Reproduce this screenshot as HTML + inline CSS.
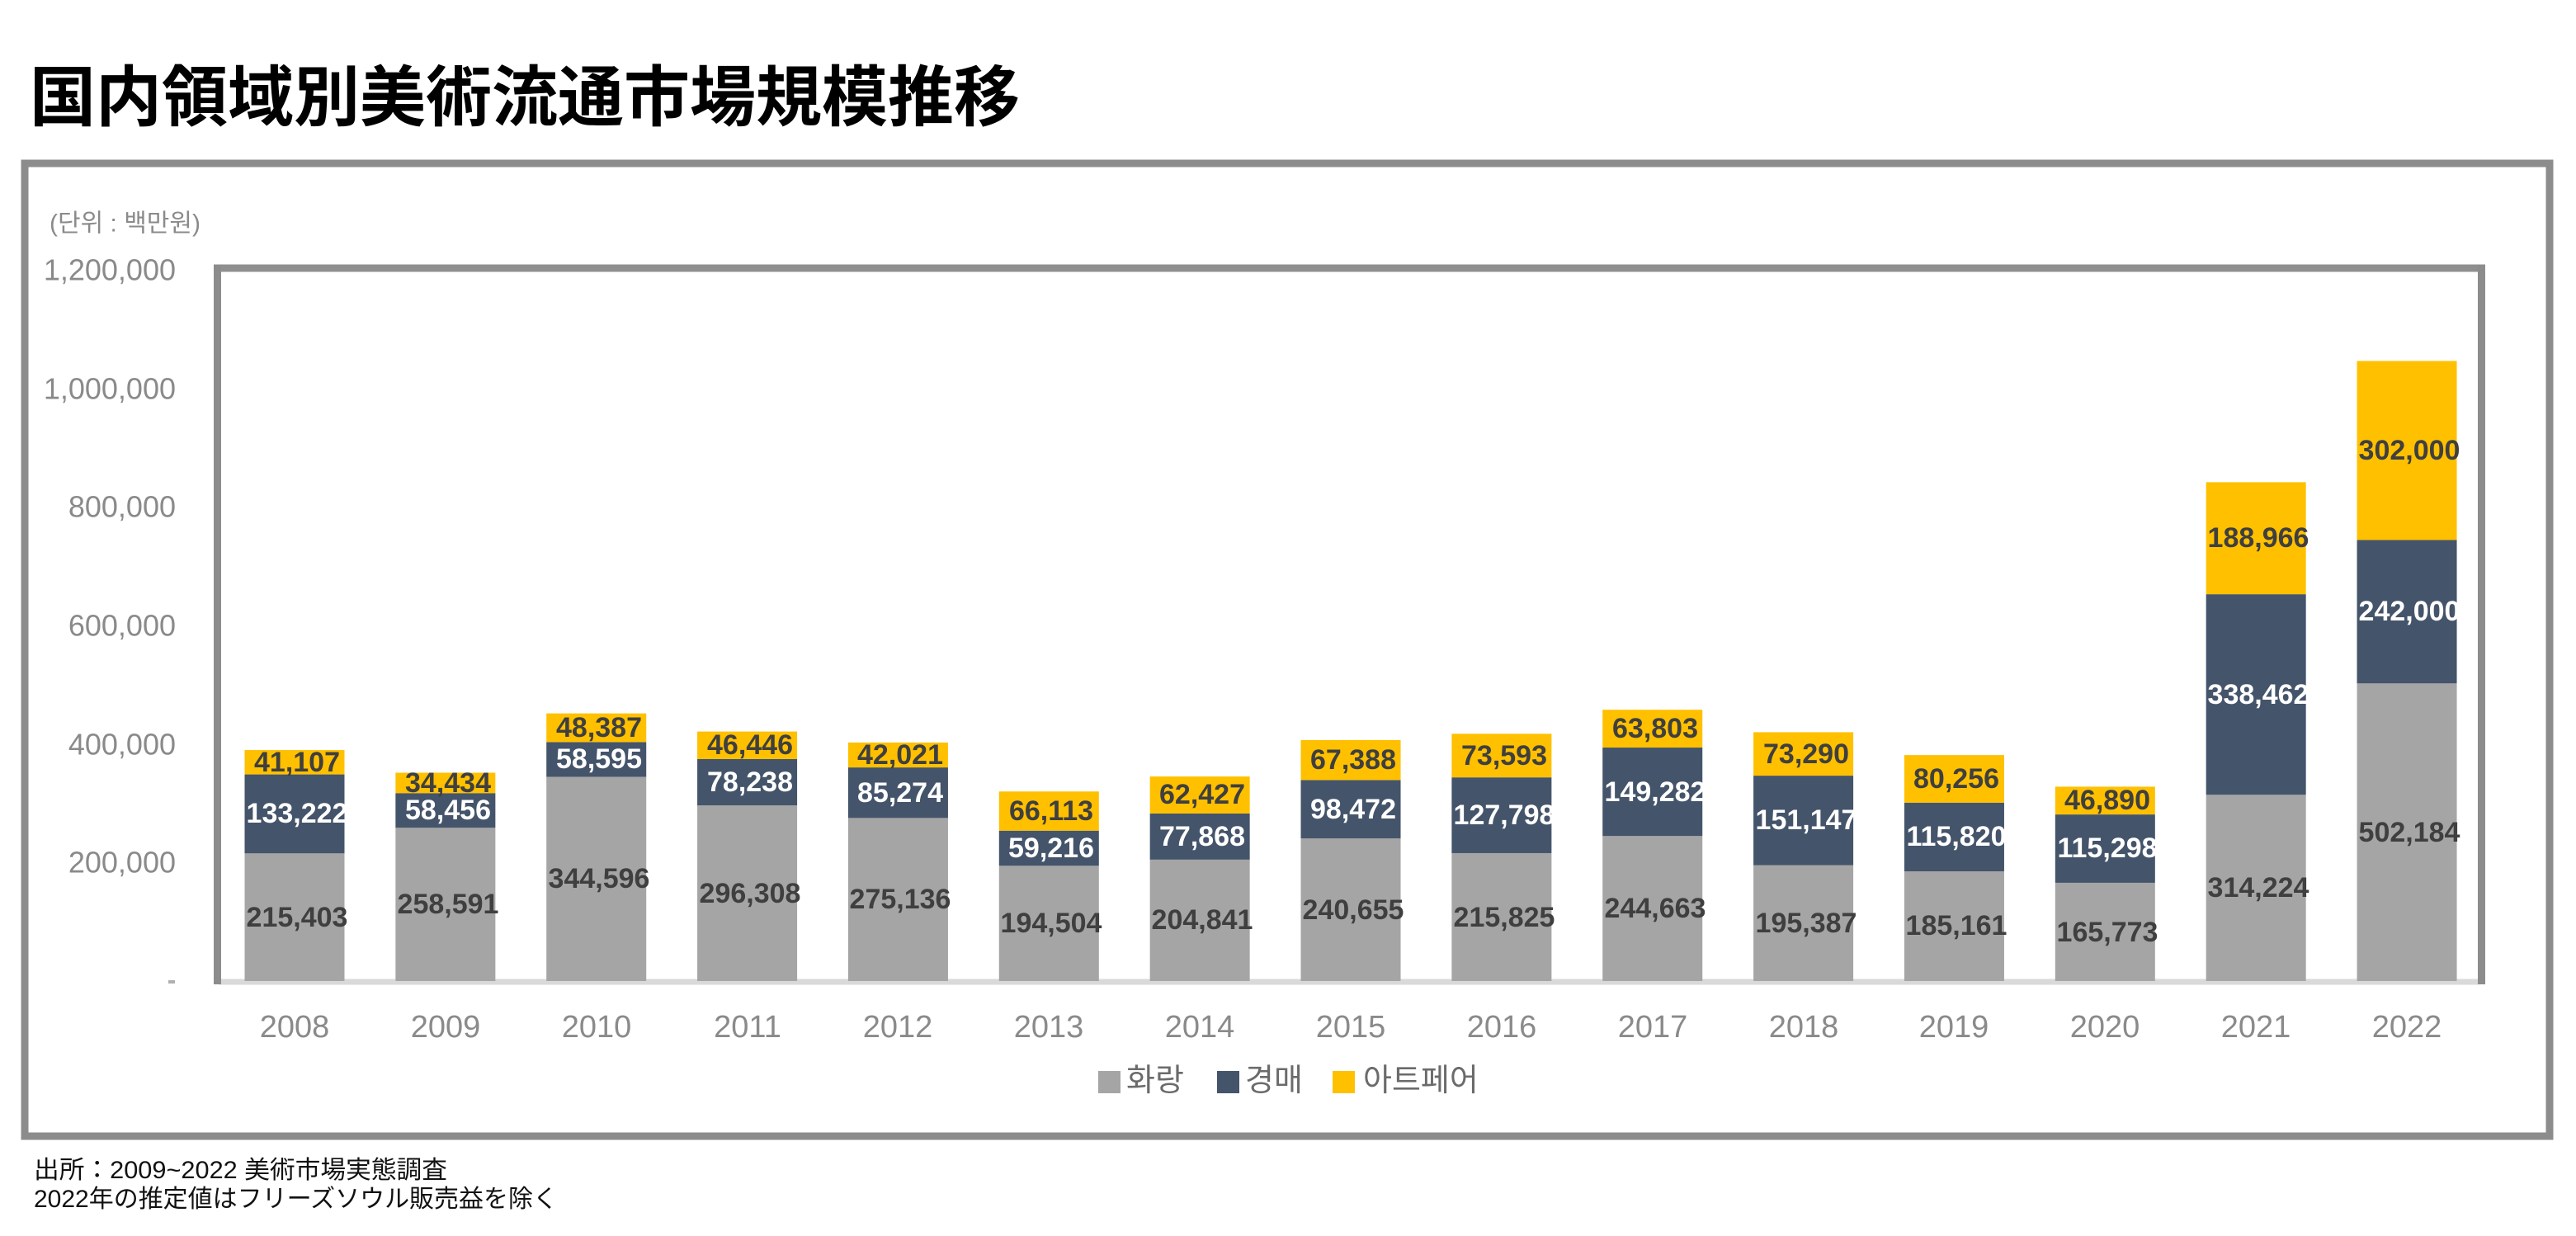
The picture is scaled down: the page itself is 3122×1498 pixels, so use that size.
<!DOCTYPE html>
<html>
<head>
<meta charset="utf-8">
<style>
html,body{margin:0;padding:0;background:#fff;}
body{width:3122px;height:1498px;overflow:hidden;}
svg{display:block;}
.yl{font-family:"Liberation Sans",sans-serif;font-size:36px;fill:#8a8a8a;text-anchor:end;dominant-baseline:central;}
.xl{font-family:"Liberation Sans",sans-serif;font-size:38px;fill:#8a8a8a;text-anchor:middle;dominant-baseline:central;}
.dl{font-family:"Liberation Sans",sans-serif;font-size:34px;font-weight:bold;text-anchor:middle;dominant-baseline:central;}
.dg{fill:#3f3f3f;}
.dn{fill:#ffffff;}
.dy{fill:#3f3f3f;}
.lg{font-family:"Liberation Sans","Noto Sans CJK KR",sans-serif;font-size:38px;fill:#6b6b6b;dominant-baseline:central;}
</style>
</head>
<body>
<svg width="3122" height="1498" viewBox="0 0 3122 1498" xmlns="http://www.w3.org/2000/svg">
<rect x="0" y="0" width="3122" height="1498" fill="#ffffff"/>

<!-- Title -->
<text x="36" y="146" font-family="'Liberation Sans','Noto Sans CJK JP',sans-serif" font-size="80" font-weight="bold" fill="#000">国内領域別美術流通市場規模推移</text>

<!-- Outer frame -->
<rect x="30" y="198" width="3060" height="1179" fill="#ffffff" stroke="#8c8c8c" stroke-width="9"/>

<!-- unit label -->
<text x="60" y="271" font-family="'Liberation Sans','Noto Sans CJK KR',sans-serif" font-size="30" fill="#8a8a8a" dominant-baseline="central">(단위 : 백만원)</text>

<!-- Y axis labels -->
<text class="yl" x="213" y="327">1,200,000</text>
<text class="yl" x="213" y="471">1,000,000</text>
<text class="yl" x="213" y="614">800,000</text>
<text class="yl" x="213" y="758">600,000</text>
<text class="yl" x="213" y="902">400,000</text>
<text class="yl" x="213" y="1045">200,000</text>
<rect x="204" y="1188" width="8" height="4" fill="#b0b0b0"/>

<!-- baseline -->
<line x1="266" y1="1190" x2="3004" y2="1190" stroke="#d9d9d9" stroke-width="7"/>

<!-- Bars -->
<g>
<!-- 2008 -->
<rect x="296.5" y="1034.27" width="121" height="154.73" fill="#a5a5a5"/>
<rect x="296.5" y="938.57" width="121" height="95.70" fill="#44546a"/>
<rect x="296.5" y="909.04" width="121" height="29.53" fill="#ffc000"/>
<!-- 2009 -->
<rect x="479.36" y="1003.25" width="121" height="185.75" fill="#a5a5a5"/>
<rect x="479.36" y="961.26" width="121" height="41.99" fill="#44546a"/>
<rect x="479.36" y="936.52" width="121" height="24.74" fill="#ffc000"/>
<!-- 2010 -->
<rect x="662.22" y="941.47" width="121" height="247.53" fill="#a5a5a5"/>
<rect x="662.22" y="899.38" width="121" height="42.09" fill="#44546a"/>
<rect x="662.22" y="864.62" width="121" height="34.76" fill="#ffc000"/>
<!-- 2011 -->
<rect x="845.08" y="976.15" width="121" height="212.85" fill="#a5a5a5"/>
<rect x="845.08" y="919.95" width="121" height="56.20" fill="#44546a"/>
<rect x="845.08" y="886.59" width="121" height="33.36" fill="#ffc000"/>
<!-- 2012 -->
<rect x="1027.94" y="991.36" width="121" height="197.64" fill="#a5a5a5"/>
<rect x="1027.94" y="930.11" width="121" height="61.25" fill="#44546a"/>
<rect x="1027.94" y="899.93" width="121" height="30.18" fill="#ffc000"/>
<!-- 2013 -->
<rect x="1210.8" y="1049.28" width="121" height="139.72" fill="#a5a5a5"/>
<rect x="1210.8" y="1006.74" width="121" height="42.54" fill="#44546a"/>
<rect x="1210.8" y="959.25" width="121" height="47.49" fill="#ffc000"/>
<!-- 2014 -->
<rect x="1393.66" y="1041.86" width="121" height="147.14" fill="#a5a5a5"/>
<rect x="1393.66" y="985.92" width="121" height="55.94" fill="#44546a"/>
<rect x="1393.66" y="941.08" width="121" height="44.84" fill="#ffc000"/>
<!-- 2015 -->
<rect x="1576.52" y="1016.13" width="121" height="172.87" fill="#a5a5a5"/>
<rect x="1576.52" y="945.39" width="121" height="70.74" fill="#44546a"/>
<rect x="1576.52" y="896.98" width="121" height="48.41" fill="#ffc000"/>
<!-- 2016 -->
<rect x="1759.38" y="1033.97" width="121" height="155.03" fill="#a5a5a5"/>
<rect x="1759.38" y="942.17" width="121" height="91.80" fill="#44546a"/>
<rect x="1759.38" y="889.31" width="121" height="52.86" fill="#ffc000"/>
<!-- 2017 -->
<rect x="1942.24" y="1013.25" width="121" height="175.75" fill="#a5a5a5"/>
<rect x="1942.24" y="906.02" width="121" height="107.23" fill="#44546a"/>
<rect x="1942.24" y="860.19" width="121" height="45.83" fill="#ffc000"/>
<!-- 2018 -->
<rect x="2125.1" y="1048.65" width="121" height="140.35" fill="#a5a5a5"/>
<rect x="2125.1" y="940.08" width="121" height="108.57" fill="#44546a"/>
<rect x="2125.1" y="887.43" width="121" height="52.65" fill="#ffc000"/>
<!-- 2019 -->
<rect x="2307.96" y="1055.99" width="121" height="133.01" fill="#a5a5a5"/>
<rect x="2307.96" y="972.79" width="121" height="83.20" fill="#44546a"/>
<rect x="2307.96" y="915.14" width="121" height="57.65" fill="#ffc000"/>
<!-- 2020 -->
<rect x="2490.82" y="1069.92" width="121" height="119.08" fill="#a5a5a5"/>
<rect x="2490.82" y="987.10" width="121" height="82.82" fill="#44546a"/>
<rect x="2490.82" y="953.42" width="121" height="33.68" fill="#ffc000"/>
<!-- 2021 -->
<rect x="2673.68" y="963.28" width="121" height="225.72" fill="#a5a5a5"/>
<rect x="2673.68" y="720.15" width="121" height="243.13" fill="#44546a"/>
<rect x="2673.68" y="584.41" width="121" height="135.74" fill="#ffc000"/>
<!-- 2022 -->
<rect x="2856.54" y="828.27" width="121" height="360.73" fill="#a5a5a5"/>
<rect x="2856.54" y="654.43" width="121" height="173.84" fill="#44546a"/>
<rect x="2856.54" y="437.49" width="121" height="216.94" fill="#ffc000"/>
</g>

<!-- Data labels -->
<g>
<text class="dl dg" x="360" y="1112">215,403</text>
<text class="dl dn" x="360" y="986">133,222</text>
<text class="dl dy" x="360" y="924">41,107</text>

<text class="dl dg" x="543" y="1096">258,591</text>
<text class="dl dn" x="543" y="982">58,456</text>
<text class="dl dy" x="543" y="949">34,434</text>

<text class="dl dg" x="726" y="1065">344,596</text>
<text class="dl dn" x="726" y="920">58,595</text>
<text class="dl dy" x="726" y="882">48,387</text>

<text class="dl dg" x="909" y="1083">296,308</text>
<text class="dl dn" x="909" y="948">78,238</text>
<text class="dl dy" x="909" y="903">46,446</text>

<text class="dl dg" x="1091" y="1090">275,136</text>
<text class="dl dn" x="1091" y="961">85,274</text>
<text class="dl dy" x="1091" y="915">42,021</text>

<text class="dl dg" x="1274" y="1119">194,504</text>
<text class="dl dn" x="1274" y="1028">59,216</text>
<text class="dl dy" x="1274" y="983">66,113</text>

<text class="dl dg" x="1457" y="1115">204,841</text>
<text class="dl dn" x="1457" y="1014">77,868</text>
<text class="dl dy" x="1457" y="963">62,427</text>

<text class="dl dg" x="1640" y="1103">240,655</text>
<text class="dl dn" x="1640" y="981">98,472</text>
<text class="dl dy" x="1640" y="921">67,388</text>

<text class="dl dg" x="1823" y="1112">215,825</text>
<text class="dl dn" x="1823" y="988">127,798</text>
<text class="dl dy" x="1823" y="916">73,593</text>

<text class="dl dg" x="2006" y="1101">244,663</text>
<text class="dl dn" x="2006" y="960">149,282</text>
<text class="dl dy" x="2006" y="883">63,803</text>

<text class="dl dg" x="2189" y="1119">195,387</text>
<text class="dl dn" x="2189" y="994">151,147</text>
<text class="dl dy" x="2189" y="914">73,290</text>

<text class="dl dg" x="2371" y="1122">185,161</text>
<text class="dl dn" x="2371" y="1014">115,820</text>
<text class="dl dy" x="2371" y="944">80,256</text>

<text class="dl dg" x="2554" y="1130">165,773</text>
<text class="dl dn" x="2554" y="1028">115,298</text>
<text class="dl dy" x="2554" y="970">46,890</text>

<text class="dl dg" x="2737" y="1076">314,224</text>
<text class="dl dn" x="2737" y="842">338,462</text>
<text class="dl dy" x="2737" y="652">188,966</text>

<text class="dl dg" x="2920" y="1009">502,184</text>
<text class="dl dn" x="2920" y="741">242,000</text>
<text class="dl dy" x="2920" y="546">302,000</text>
</g>

<!-- Plot frame (top, left, right) -->
<line x1="259" y1="325" x2="3012" y2="325" stroke="#8f8f8f" stroke-width="9"/>
<line x1="263.5" y1="321" x2="263.5" y2="1193" stroke="#8c8c8c" stroke-width="9"/>
<line x1="3007.5" y1="321" x2="3007.5" y2="1193" stroke="#8c8c8c" stroke-width="9"/>

<!-- X labels -->
<text class="xl" x="357" y="1245">2008</text>
<text class="xl" x="540" y="1245">2009</text>
<text class="xl" x="723" y="1245">2010</text>
<text class="xl" x="906" y="1245">2011</text>
<text class="xl" x="1088" y="1245">2012</text>
<text class="xl" x="1271" y="1245">2013</text>
<text class="xl" x="1454" y="1245">2014</text>
<text class="xl" x="1637" y="1245">2015</text>
<text class="xl" x="1820" y="1245">2016</text>
<text class="xl" x="2003" y="1245">2017</text>
<text class="xl" x="2186" y="1245">2018</text>
<text class="xl" x="2368" y="1245">2019</text>
<text class="xl" x="2551" y="1245">2020</text>
<text class="xl" x="2734" y="1245">2021</text>
<text class="xl" x="2917" y="1245">2022</text>

<!-- Legend -->
<rect x="1331" y="1298" width="27" height="27" fill="#a5a5a5"/>
<text class="lg" x="1365" y="1310">화랑</text>
<rect x="1475" y="1298" width="27" height="27" fill="#44546a"/>
<text class="lg" x="1509" y="1310">경매</text>
<rect x="1615" y="1298" width="27" height="27" fill="#ffc000"/>
<text class="lg" x="1652" y="1310">아트페어</text>

<!-- Footer -->
<text x="41" y="1428" font-family="'Liberation Sans','Noto Sans CJK JP',sans-serif" font-size="30" fill="#111" textLength="501" lengthAdjust="spacingAndGlyphs">出所：2009~2022 美術市場実態調査</text>
<text x="41" y="1463" font-family="'Liberation Sans','Noto Sans CJK JP',sans-serif" font-size="30" fill="#111" textLength="635" lengthAdjust="spacingAndGlyphs">2022年の推定値はフリーズソウル販売益を除く</text>
</svg>
</body>
</html>
